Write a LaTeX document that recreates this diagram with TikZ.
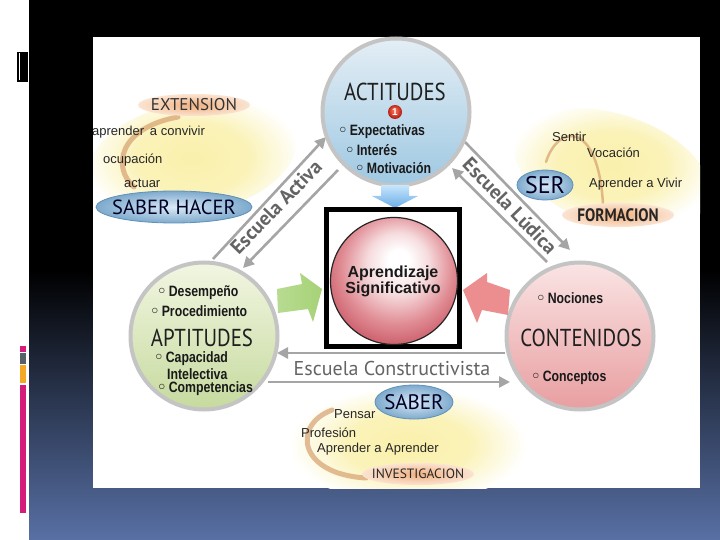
\documentclass[tikz,border=0pt]{standalone}
\usepackage{fontspec}
\setmainfont{Liberation Sans}
\newfontfamily\tfam{PT Sans}[FakeStretch=0.85]
\newfontfamily\tfamw{PT Sans}
\newfontfamily\bfam{Liberation Sans}[FakeStretch=0.82]
\newfontfamily\dvfam{DejaVu Sans}
\usetikzlibrary{shapes.geometric,arrows.meta}
\newcommand{\bu}{{\dvfam\char"25E6}\hspace{2pt}}
\newcommand{\fs}[1]{\fontsize{#1}{#1}\selectfont}
\definecolor{bgblue}{RGB}{88,112,165}
\definecolor{ring}{RGB}{196,196,196}
\definecolor{actTop}{RGB}{228,238,245}
\definecolor{actBot}{RGB}{158,200,226}
\definecolor{aptTop}{RGB}{242,246,226}
\definecolor{aptBot}{RGB}{198,218,158}
\definecolor{conTop}{RGB}{250,228,228}
\definecolor{conBot}{RGB}{232,158,160}
\definecolor{blobY}{RGB}{250,240,172}
\definecolor{pillIn}{RGB}{240,176,128}
\definecolor{pillOut}{RGB}{251,228,210}
\definecolor{blIn}{RGB}{218,234,246}
\definecolor{blOut}{RGB}{126,170,205}
\definecolor{blLine}{RGB}{95,145,185}
\definecolor{tan}{RGB}{214,160,110}
\definecolor{lgray}{RGB}{165,165,165}
\definecolor{txgray}{RGB}{100,100,100}
\definecolor{greenA}{RGB}{166,210,118}
\definecolor{pinkA}{RGB}{236,142,144}
\definecolor{blueAt}{RGB}{200,230,252}
\definecolor{blueAb}{RGB}{105,172,232}
\definecolor{sphL}{RGB}{246,220,222}
\definecolor{sphM}{RGB}{224,140,148}
\definecolor{sphD}{RGB}{196,78,92}
\definecolor{badgeL}{RGB}{238,96,72}
\definecolor{badgeD}{RGB}{180,30,20}
\definecolor{magbar}{RGB}{214,28,122}
\definecolor{graybar}{RGB}{88,96,106}
\definecolor{orbar}{RGB}{245,168,36}
\pgfdeclareradialshading{sphereshade}{\pgfpoint{2bp}{9bp}}{color(0bp)=(white); color(4bp)=(white); color(12bp)=(sphL); color(22bp)=(sphM); color(32bp)=(sphD); color(50bp)=(sphD)}
\pgfdeclareradialshading{blobshade}{\pgfpointorigin}{color(0bp)=(blobY); color(13bp)=(blobY!85!white); color(25bp)=(white); color(50bp)=(white)}
\pgfdeclareradialshading{badgeshade}{\pgfpoint{-3bp}{6bp}}{color(0bp)=(badgeL); color(8bp)=(badgeL); color(25bp)=(badgeD); color(50bp)=(badgeD)}
\begin{document}
\begin{tikzpicture}[x=1pt,y=-1pt,
  blob/.style={ellipse,inner sep=0,shading=blobshade},
  pill/.style={ellipse,inner sep=0,inner color=pillIn,outer color=pillOut},
  bell/.style={ellipse,inner sep=0,inner color=blIn,outer color=blOut,draw=blLine,line width=0.8},
  swoosh/.style={draw=tan,line width=5,line cap=round,opacity=0.7},
  lab/.style={inner sep=0,anchor=west,font=\fs{13},text=black!85},
  bigc/.style={circle,inner sep=0,minimum size=147,draw=ring,line width=4},
  btxt/.style={inner sep=0,anchor=west,font=\bfam\bfseries\fs{15},text=black!90},
  ttl/.style={inner sep=0,font=\tfam\fs{24.5},text=black!88},
  garr/.style={draw=lgray,line width=2.6,-{Triangle[length=11,width=11]}},
  esc/.style={inner sep=0,text=txgray}]
\useasboundingbox (0,0) rectangle (720,540);
% background
\fill[white] (0,0) rectangle (720,540);
\fill[black] (29,0) rectangle (720,271);
\shade[top color=black,bottom color=bgblue] (29,270) rectangle (720,540);
\fill[black] (17,52) rectangle (28,82);
\fill[white] (18.6,53.5) rectangle (20.2,80.5);
\fill[magbar] (20,346) rectangle (26,352);
\fill[graybar] (20,353) rectangle (26,364);
\fill[orbar] (20,365) rectangle (26,383);
\fill[magbar] (20,385) rectangle (26,513);
% panel
\fill[white] (93,37) rectangle (700,488);
\begin{scope}
\clip (93,37) rectangle (700,488);
% yellow blobs
\node[blob,minimum width=212,minimum height=114,rotate=12] (blobA) at (192,158) {};
\node[blob,minimum width=202,minimum height=112,rotate=-18] (blobB) at (612,170) {};
\node[blob,minimum width=238,minimum height=116] (blobC) at (408,445) {};
% swooshes
\coordinate (swA1) at (178,117); \coordinate (swA2) at (134,187);
\draw[swoosh] (swA1) .. controls (118,128) and (112,168) .. (swA2);
\coordinate (swB1) at (546,162); \coordinate (swB2) at (603,204);
\draw[swoosh,line width=2.5] (swB1) .. controls (558,124) and (598,120) .. (swB2);
\coordinate (swC1) at (332,410); \coordinate (swC2) at (366,478);
\draw[swoosh] (swC1) .. controls (292,425) and (298,474) .. (swC2);
% top-left group
\node[pill,minimum width=112,minimum height=22] (extP) at (194,105) {};
\node[inner sep=0,font=\tfamw\fs{17},text=black!80] (extT) at (extP) {EXTENSION};
\node[lab] (l1) at (92,132) {aprender\, a convivir};
\node[lab] (l2) at (103,160) {ocupación};
\node[lab] (l3) at (124,183) {actuar};
\node[bell,minimum width=156,minimum height=32] (shE) at (174,207) {};
\node[inner sep=0,font=\tfamw\fs{20.5},text=black!85!blue] (shT) at (shE) {SABER HACER};
% top-right group
\node[lab] (r1) at (552,137) {Sentir};
\node[lab] (r2) at (587,153) {Vocación};
\node[bell,minimum width=56,minimum height=30] (serE) at (545,185) {};
\node[inner sep=0,font=\tfamw\fs{24},text=black!85!blue] (serT) at (serE) {SER};
\node[lab] (r3) at (589,184) {Aprender a Vivir};
\node[pill,minimum width=112,minimum height=24] (forP) at (618,215) {};
\node[inner sep=0,font=\tfam\bfseries\fs{18},text=black!85] (forT) at (forP) {FORMACION};
% bottom group
\node[bell,minimum width=78,minimum height=34] (sabE) at (414,402) {};
\node[inner sep=0,font=\tfamw\fs{21},text=black!85!blue] (sabT) at (sabE) {SABER};
\node[lab] (b1) at (334,414) {Pensar};
\node[lab] (b2) at (301,433) {Profesión};
\node[lab] (b3) at (317,449) {Aprender a Aprender};
\node[pill,minimum width=112,minimum height=22] (invP) at (418,474) {};
\node[inner sep=0,font=\tfamw\fs{13.5},text=black!85] (invT) at (invP) {INVESTIGACION};
% gray double arrows
\coordinate (a1s) at (213,259); \coordinate (a1e) at (326,137);
\coordinate (a2s) at (338,170); \coordinate (a2e) at (243,268);
\draw[garr] (a1s) -- (a1e);
\draw[garr] (a2s) -- (a2e);
\node[esc,rotate=46,font=\tfamw\bfseries\fs{20}] (escA) at (276,207) {Escuela Activa};
\coordinate (l1s) at (465,142); \coordinate (l1e) at (570,250);
\coordinate (l2s) at (547,262); \coordinate (l2e) at (452,168);
\draw[garr] (l1s) -- (l1e);
\draw[garr] (l2s) -- (l2e);
\node[esc,rotate=-46,font=\tfamw\bfseries\fs{20}] (escL) at (510,206) {Escuela Lúdica};
\coordinate (c1s) at (505,353); \coordinate (c1e) at (277,353);
\coordinate (c2s) at (268,382); \coordinate (c2e) at (510,382);
\draw[garr] (c1s) -- (c1e);
\draw[garr] (c2s) -- (c2e);
\node[esc,font=\tfamw\fs{20}] (escC) at (392,368) {Escuela Constructivista};
% big circles
\node[bigc,top color=actTop,bottom color=actBot] (act) at (396,112) {};
\node[bigc,top color=aptTop,bottom color=aptBot] (apt) at (204,336) {};
\node[bigc,top color=conTop,bottom color=conBot] (con) at (580,336) {};
% ACTITUDES content
\node[ttl] (actT) at (395,92) {ACTITUDES};
\node[circle,inner sep=0,minimum size=14,shading=badgeshade,text=white,font=\bfseries\fs{10}] (one) at (395,112) {1};
\node[btxt] (e1) at (338,132) {\bu Expectativas};
\node[btxt] (e2) at (345,150) {\bu Interés};
\node[btxt] (e3) at (355,168) {\bu Motivación};
% APTITUDES content
\node[btxt] (p1) at (157,293) {\bu Desempeño};
\node[btxt] (p2) at (150,311) {\bu Procedimiento};
\node[ttl] (aptT) at (202,338) {APTITUDES};
\node[btxt] (p3) at (154,359) {\bu Capacidad};
\node[btxt] (p4) at (167,374) {Intelectiva};
\node[btxt] (p5) at (157,389) {\bu Competencias};
% CONTENIDOS content
\node[btxt] (n1) at (536,298) {\bu Nociones};
\node[ttl] (conT) at (581,338) {CONTENIDOS};
\node[btxt] (n2) at (531,378) {\bu Conceptos};
% block arrows
\shade[left color=greenA!80!white,right color=greenA] (277,289) -- (302,284) -- (300,273) -- (322,289) -- (313,322) -- (308,309) -- (278,313) -- cycle;
\fill[pinkA] (463,290) -- (487,273) -- (487,282) -- (510,290) -- (508,315) -- (482,310) -- (477,323) -- cycle;
\shade[top color=blueAt,bottom color=blueAb] (381,185) -- (409,185) -- (409,196) -- (418,196) -- (395,208) -- (372,196) -- (381,196) -- cycle;
% centre
\draw[black,line width=5] (326.5,209.5) rectangle (459.5,346.5);
\node[circle,inner sep=0,minimum size=127,draw=black!85,line width=1.2,shading=sphereshade] (ap) at (394,281) {};
\node[inner sep=0,align=center,font=\bfseries\fs{16},text=black!90] (apT) at (393,281) {Aprendizaje\\[0pt]Significativo};
\end{scope}
\end{tikzpicture}
\end{document}
